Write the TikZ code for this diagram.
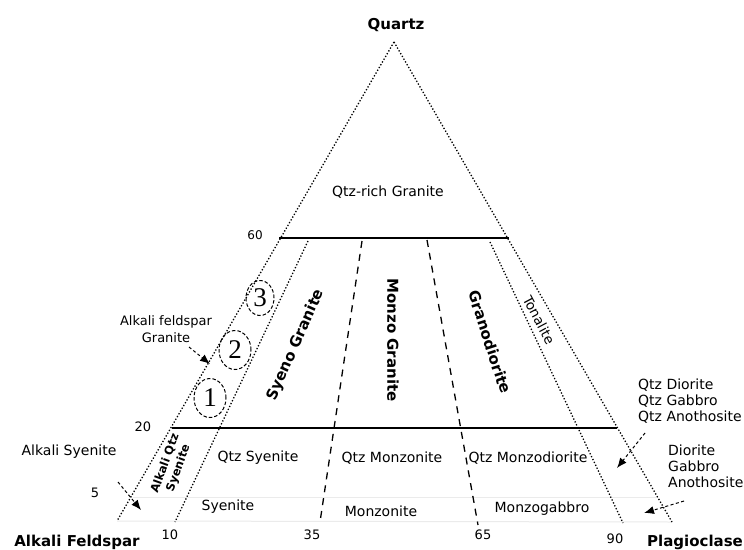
\documentclass[tikz,border=0pt]{standalone}
\usepackage{fontspec}
\setmainfont{DejaVu Sans}
\newfontfamily\numfont{Liberation Serif}
\usetikzlibrary{arrows.meta,shapes.geometric}
\begin{document}
\begin{tikzpicture}[x=1pt,y=-1pt,
  dotln/.style={line width=1.3pt, dash pattern=on 1.3pt off 1.9pt},
  dashln/.style={line width=1.3pt, dash pattern=on 7pt off 6pt},
  solidln/.style={line width=1.3pt},
  faint/.style={line width=1pt, draw=black!8},
  lbl/.style={font=\fontsize{14}{16}\selectfont, inner sep=0pt},
  blbl/.style={font=\fontsize{15}{17}\selectfont\bfseries, inner sep=0pt},
  numl/.style={font=\fontsize{13}{15}\selectfont, inner sep=0pt},
  ring/.style={ellipse, draw, line width=1pt, dash pattern=on 3.5pt off 2pt,
    minimum width=32pt, minimum height=39pt, inner sep=0pt,
    font=\numfont\fontsize{27}{27}\selectfont},
  pointer/.style={-{Latex[length=10pt,width=8pt]}, line width=1pt,
    dash pattern=on 3pt off 2.5pt}
]
\useasboundingbox (0,0) rectangle (744,549);
\fill[white] (0,0) rectangle (744,549);

% corners and line ends
\coordinate (Q) at (394,42);
\coordinate (A) at (117,521);
\coordinate (P) at (672,522);
\coordinate (s60l) at (279,238);
\coordinate (s60r) at (509,238);
\coordinate (s20l) at (172,428);
\coordinate (s20r) at (617,428);
\coordinate (s5l) at (133,497);
\coordinate (s5r) at (658,497);
\coordinate (t10) at (308,241);
\coordinate (b10) at (175,522);
\coordinate (t35) at (362,241);
\coordinate (b35) at (320,522);
\coordinate (t65) at (427,240);
\coordinate (b65) at (478,525);
\coordinate (t90) at (490,242);
\coordinate (b90) at (623,523);

% faint base lines
\draw[faint] (s5l) -- (s5r);
\draw[faint] (A) -- (P);

% outer edges
\draw[dotln] (Q) -- (A);
\draw[dotln] (Q) -- (P);
% horizontal boundaries
\draw[solidln] (s60l) -- (s60r);
\draw[solidln] (s20l) -- (s20r);
% radial boundaries
\draw[dotln] (t10) -- (b10);
\draw[dashln] (t35) -- (b35);
\draw[dashln] (t65) -- (b65);
\draw[dotln] (t90) -- (b90);

% corner labels
\node[blbl] (lq) at (396,25) {Quartz};
\node[blbl] (la) at (77,542) {Alkali Feldspar};
\node[blbl] (lp) at (695,542) {Plagioclase};

% numbers
\node[numl, font=\fontsize{12}{14}\selectfont] (n60) at (255,235) {60};
\node[numl] (n20) at (143,427) {20};
\node[numl] (n5) at (95,493) {5};
\node[numl] (n10) at (170,535) {10};
\node[numl] (n35) at (312,535) {35};
\node[numl] (n65) at (483,535) {65};
\node[numl] (n90) at (615,539) {90};

% field labels
\node[lbl] (qrg) at (388,192) {Qtz-rich Granite};
\node[blbl, rotate=66] (sg) at (296,345) {Syeno Granite};
\node[blbl, rotate=-90] (mg) at (393,340) {Monzo Granite};
\node[blbl, rotate=-72] (gd) at (490,342) {Granodiorite};
\node[lbl, font=\fontsize{13.5}{15}\selectfont, rotate=-62] (tn) at (539,320) {Tonalite};
\node[lbl] (qs) at (258,458) {Qtz Syenite};
\node[lbl] (qm) at (392,458) {Qtz Monzonite};
\node[lbl] (qmd) at (528,458) {Qtz Monzodiorite};
\node[lbl] (sy) at (228,507) {Syenite};
\node[lbl] (mz) at (381,511) {Monzonite};
\node[lbl] (mgb) at (542,509) {Monzogabbro};
\node[blbl, font=\fontsize{11.5}{14}\selectfont\bfseries, rotate=70, align=center] (aqs) at (172,466) {Alkali Qtz\\Syenite};

% numbered rings
\node[ring] (c1) at (210,398) {1};
\node[ring] (c2) at (235,350) {2};
\node[ring, minimum width=28pt, minimum height=35pt] (c3) at (260,298) {3};

% outside labels
\node[lbl, font=\fontsize{13}{17}\selectfont, align=center] (afg) at (166,329) {Alkali feldspar\\Granite};
\node[lbl] (as) at (69,452) {Alkali Syenite};
\node[lbl, align=left, anchor=west] (qd) at (638,401) {Qtz Diorite\\Qtz Gabbro\\Qtz Anothosite};
\node[lbl, align=left, anchor=west] (dg) at (668,466) {Diorite\\Gabbro\\Anothosite};

% pointers
\coordinate (afgs) at (189,347);
\coordinate (afge) at (210,364);
\draw[pointer] (afgs) -- (afge);
\coordinate (as5s) at (118,482);
\coordinate (as5e) at (141,510);
\draw[pointer] (as5s) -- (as5e);
\coordinate (qds) at (645,433);
\coordinate (qde) at (617,468);
\draw[pointer] (qds) -- (qde);
\coordinate (dgs) at (684,501);
\coordinate (dge) at (644,513);
\draw[pointer] (dgs) -- (dge);
\end{tikzpicture}
\end{document}
